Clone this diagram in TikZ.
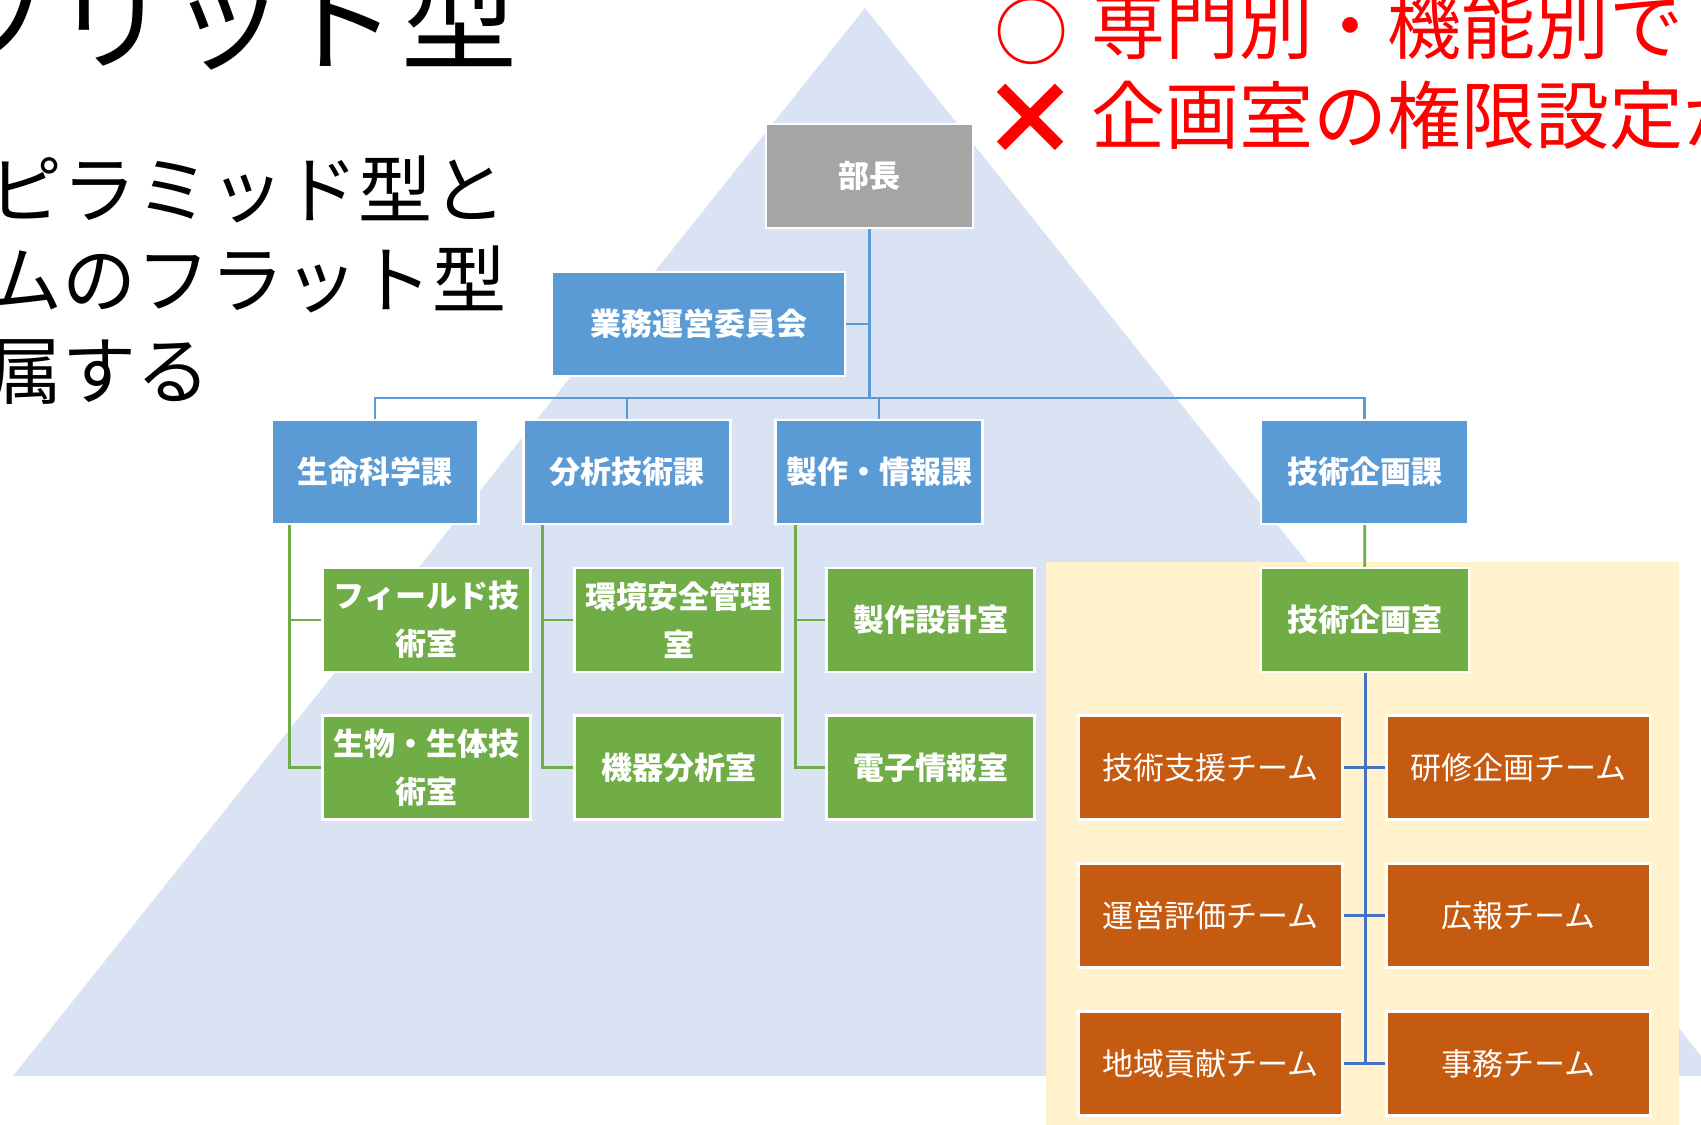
\documentclass[tikz,border=0pt]{standalone}
\usepackage{fontspec}
\setmainfont{Noto Sans CJK JP}
\definecolor{pyr}{HTML}{DAE3F3}
\definecolor{ylw}{HTML}{FFF2CC}
\definecolor{bfill}{HTML}{5B9BD5}
\definecolor{gfill}{HTML}{70AD47}
\definecolor{ofill}{HTML}{C55A11}
\definecolor{grfill}{HTML}{A5A5A5}
\definecolor{tcol}{HTML}{4472C4}
\definecolor{redtxt}{HTML}{FF0000}
\pgfdeclarelayer{bg}
\pgfdeclarelayer{lines}
\pgfsetlayers{bg,lines,main}
\tikzset{
  box/.style={draw=white, line width=2.5pt, inner sep=0pt, minimum height=104pt,
    align=center, text=white, font=\fontsize{31}{48}\selectfont\bfseries},
  topbox/.style={box, fill=grfill, minimum width=207pt},
  divbox/.style={box, fill=bfill, minimum width=207pt},
  secbox/.style={box, fill=gfill, minimum width=208pt},
  teambox/.style={box, fill=ofill, minimum width=264pt, font=\fontsize{31}{40}\selectfont},
  bline/.style={draw=bfill, line width=2.8pt},
  gline/.style={draw=gfill, line width=2.8pt},
  tline/.style={draw=tcol, line width=3pt},
  bigtxt/.style={inner sep=0pt, anchor=base west, text=black, font=\fontsize{74}{90}\selectfont},
  redline/.style={inner sep=0pt, anchor=base west, text=redtxt, font=\fontsize{74}{90}\selectfont}
}
\begin{document}
\begin{tikzpicture}[x=1pt, y=-1pt]
\useasboundingbox (0,0) rectangle (1701,1125);
\begin{pgfonlayer}{bg}
  \clip (0,0) rectangle (1701,1125);
  \fill[pyr] (865,8) -- (13,1076) -- (1717,1076) -- cycle;
  \fill[ylw] (1046,562) rectangle (1679,1125);
\end{pgfonlayer}

\begin{scope}
  \clip (0,0) rectangle (1701,1125);
  \node[inner sep=0pt, anchor=base east, font=\fontsize{116}{120}\selectfont] (title) at (518,61) {ブリッド型};
  \node[bigtxt] (l1) at (-12,217) {ピラミッド型と};
  \node[bigtxt] (l2) at (-12,307) {ムのフラット型};
  \node[bigtxt] (l3) at (-12,398) {属する};
  \node[inner sep=0pt, text=redtxt, font=\fontsize{74}{90}\selectfont] (maru) at (1031,31) {○};
  \node[redline] (r1) at (1091,53) {専門別・機能別で};
  \node[inner sep=0pt, text=redtxt, font=\fontsize{100}{100}\selectfont\bfseries] (batsu) at (1030,120) {×};
  \node[redline] (r2) at (1091,143) {企画室の権限設定が};
\end{scope}

% boxes
\node[topbox] (bucho) at (869.5,176) {部長};
\node[divbox, minimum width=293pt] (iinkai) at (698.5,324) {業務運営委員会};
\node[divbox] (seimei) at (375,472) {生命科学課};
\node[divbox] (bunseki) at (627,472) {分析技術課};
\node[divbox] (seisaku) at (879,472) {製作・情報課};
\node[divbox] (kikaku) at (1364.5,472) {技術企画課};

\node[secbox] (field) at (426.5,620) {フィールド技\\術室};
\node[secbox] (bio) at (426.5,767.5) {生物・生体技\\術室};
\node[secbox] (kankyo) at (678.5,620) {環境安全管理\\室};
\node[secbox] (kiki) at (678.5,767.5) {機器分析室};
\node[secbox] (sekkei) at (930.5,620) {製作設計室};
\node[secbox] (denshi) at (930.5,767.5) {電子情報室};
\node[secbox] (kikakushitsu) at (1365,620) {技術企画室};

\node[teambox] (shien) at (1210.5,767.5) {技術支援チーム};
\node[teambox] (kenshu) at (1518.5,767.5) {研修企画チーム};
\node[teambox] (unei) at (1210.5,915.5) {運営評価チーム};
\node[teambox] (koho) at (1518.5,915.5) {広報チーム};
\node[teambox] (chiiki) at (1210.5,1063.5) {地域貢献チーム};
\node[teambox] (jimu) at (1518.5,1063.5) {事務チーム};

% connectors
\coordinate (hub) at (869.5,398);
\coordinate (v1) at ([xshift=19pt]seimei.south west);
\coordinate (v2) at ([xshift=20pt]bunseki.south west);
\coordinate (v3) at ([xshift=21pt]seisaku.south west);
\begin{pgfonlayer}{lines}
  \draw[bline] (bucho.center) -- (hub);
  \draw[bline] (iinkai.center) -- (iinkai.center -| hub);
  \draw[bline] (seimei.center) |- (kikaku.center |- hub) -- (kikaku.center);
  \draw[bline] (bunseki.center) -- (bunseki.center |- hub);
  \draw[bline] (seisaku.center) -- (seisaku.center |- hub);

  \draw[gline] (v1) |- (bio.center);
  \draw[gline] (v1 |- field.center) -- (field.center);
  \draw[gline] (v2) |- (kiki.center);
  \draw[gline] (v2 |- kankyo.center) -- (kankyo.center);
  \draw[gline] (v3) |- (denshi.center);
  \draw[gline] (v3 |- sekkei.center) -- (sekkei.center);
  \draw[gline] (kikaku.center) -- (kikakushitsu.center);

  \draw[tline] (kikakushitsu.center) -- (kikakushitsu.center |- chiiki.center);
  \draw[tline] (shien.center) -- (kenshu.center);
  \draw[tline] (unei.center) -- (koho.center);
  \draw[tline] (chiiki.center) -- (jimu.center);
\end{pgfonlayer}
\end{tikzpicture}
\end{document}
